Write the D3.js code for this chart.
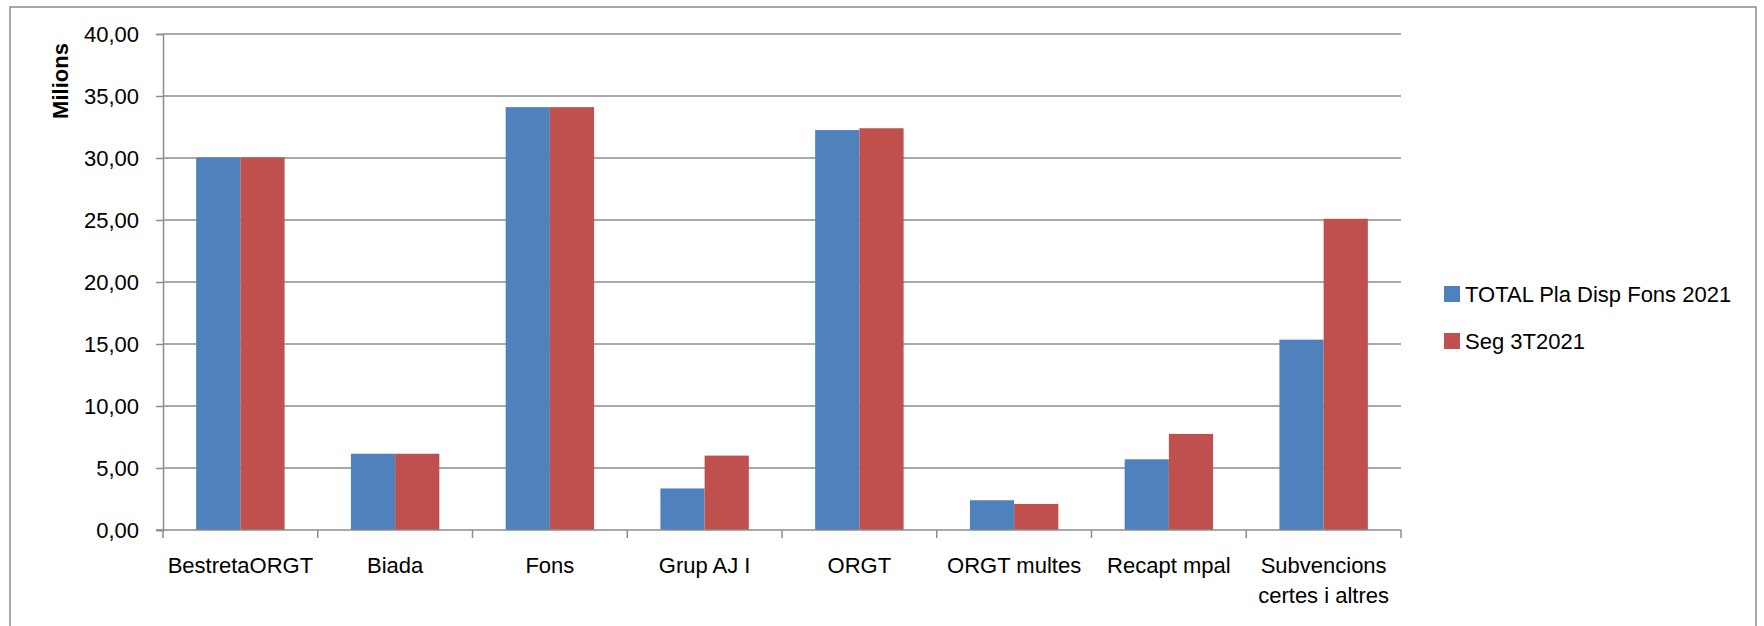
<!DOCTYPE html>
<html>
<head>
<meta charset="utf-8">
<script src="https://cdn.jsdelivr.net/npm/d3@7"></script>
<style>
  html, body { margin: 0; padding: 0; background: #fff; }
  svg { display: block; }
  text { font-family: "Liberation Sans", Arial, sans-serif; fill: #000; }
</style>
</head>
<body>
<svg id="chart" width="1764" height="626"></svg>
<script>
const categories = ["BestretaORGT", "Biada", "Fons", "Grup AJ I", "ORGT", "ORGT multes", "Recapt mpal", "Subvencions certes i altres"];
const tickLabels = [["BestretaORGT"], ["Biada"], ["Fons"], ["Grup AJ I"], ["ORGT"], ["ORGT multes"], ["Recapt mpal"], ["Subvencions", "certes i altres"]];
const seriesNames = ["TOTAL Pla Disp Fons 2021", "Seg 3T2021"];
const totalPlaDisp = [30.05, 6.15, 34.1, 3.35, 32.25, 2.4, 5.7, 15.35];
const seg3T2021 = [30.05, 6.15, 34.1, 6.0, 32.4, 2.1, 7.75, 25.1];
const yTicks = [0, 5, 10, 15, 20, 25, 30, 35, 40];
const colors = ["#4F81BD", "#C0504D"];
const yTitle = "Milions";

(function () {
const svg = d3.select("#chart");
const plotLeft = 163, plotRight = 1401, plotTop = 34, plotBottom = 530;

// outer frame
svg.append("path")
  .attr("d", "M10,630 L10,7 L1756,7 L1756,630")
  .attr("fill", "none").attr("stroke", "#8c8c8c").attr("stroke-width", 1.5);

const x0 = d3.scaleBand().domain(categories).range([plotLeft, plotRight]).padding(0);
const x1 = d3.scaleBand().domain(seriesNames).range([0, x0.bandwidth()]).paddingInner(0).paddingOuter(0.75);
const y = d3.scaleLinear().domain([0, 40]).range([plotBottom, plotTop]);

// gridlines
svg.append("g").selectAll("line").data(yTicks.filter(d => d > 0)).join("line")
  .attr("x1", plotLeft).attr("x2", plotRight)
  .attr("y1", d => y(d)).attr("y2", d => y(d))
  .attr("stroke", "#8c8c8c").attr("stroke-width", 1.5);

// bars
const rows = categories.map((c, i) => ({ cat: c, vals: [totalPlaDisp[i], seg3T2021[i]] }));
const g = svg.append("g");
rows.forEach(r => {
  r.vals.forEach((v, j) => {
    g.append("rect")
      .attr("x", x0(r.cat) + x1(seriesNames[j]))
      .attr("y", y(v))
      .attr("width", x1.bandwidth())
      .attr("height", y(0) - y(v))
      .attr("fill", colors[j]);
  });
});

// y axis
const yAxis = d3.axisLeft(y).tickValues(yTicks).tickSize(7).tickPadding(17)
  .tickFormat(d => d.toFixed(2).replace(".", ","));
const ya = svg.append("g").attr("transform", `translate(${plotLeft},0)`).call(yAxis);
ya.select(".domain").attr("stroke", "#8c8c8c").attr("stroke-width", 1.5);
ya.selectAll(".tick line").attr("stroke", "#8c8c8c").attr("stroke-width", 1.5);
ya.selectAll(".tick text").style("font-family", '"Liberation Sans", Arial, sans-serif').style("font-size", "22px").attr("fill", "#000");

// x axis line and boundary ticks
svg.append("line").attr("x1", plotLeft - 7).attr("x2", plotRight).attr("y1", plotBottom).attr("y2", plotBottom)
  .attr("stroke", "#8c8c8c").attr("stroke-width", 1.5);
const bounds = categories.map(c => x0(c)).concat([x0.range()[1]]);
svg.append("g").selectAll("line").data(bounds).join("line")
  .attr("x1", d => d).attr("x2", d => d).attr("y1", plotBottom).attr("y2", plotBottom + 8)
  .attr("stroke", "#8c8c8c").attr("stroke-width", 1.5);

// x labels
categories.forEach((c, i) => {
  const cx = x0(c) + x0.bandwidth() / 2;
  const t = svg.append("text").attr("text-anchor", "middle").style("font-size", "22px")
    .attr("x", cx).attr("y", 573);
  tickLabels[i].forEach((line, k) => {
    t.append("tspan").attr("x", cx).attr("dy", k === 0 ? 0 : 30).text(line);
  });
});

// y title
svg.append("text").attr("transform", "translate(68,81) rotate(-90)")
  .attr("text-anchor", "middle").style("font-size", "22px").style("font-weight", "bold").text(yTitle);

// legend
const lg = svg.append("g");
seriesNames.forEach((s, j) => {
  lg.append("rect").attr("x", 1444).attr("y", 286 + j * 47).attr("width", 16).attr("height", 16).attr("fill", colors[j]);
  lg.append("text").attr("x", 1465).attr("y", 302 + j * 47).style("font-size", "22px").text(s);
});
})();
</script>
</body>
</html>
